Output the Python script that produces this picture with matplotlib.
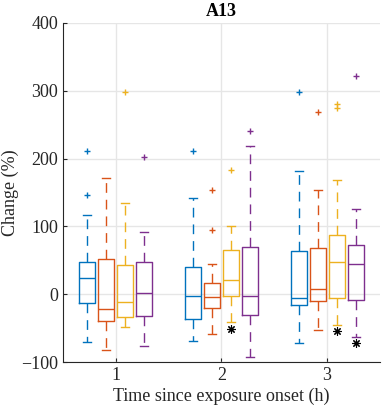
import numpy as np
import matplotlib.pyplot as plt

# === DATA ===
HOURS = [1, 2, 3]
SERIES_COLORS = ['#0072BD', '#D95319', '#EDB120', '#7E2F8E']
OFFSETS = [-0.27, -0.09, 0.09, 0.27]

# per series: values for hour 1, 2, 3
q1 = [[-13, -37, -16], [-39, -21, -10], [-33, -3, -5], [-32, -31, -8]]
med = [[24, -3, -6], [-22, -4, 8], [-11, 21, 48], [2, -3, 45]]
q3 = [[48, 40, 63], [52, 17, 68], [43, 65, 88], [48, 70, 73]]
whislo = [[-71, -69, -72], [-83, -58, -53], [-48, -41, -46], [-76, -92, -63]]
whishi = [[117, 142, 182], [171, 44, 154], [134, 101, 169], [92, 218, 126]]
fliers = [
    [[146, 211], [211], [298]],
    [[], [94, 153], [268]],
    [[298], [183], [274, 280]],
    [[202], [240], [322]],
]
# significance stars: (hour, series index, value)
star_hour = [2, 3, 3]
star_series = [2, 2, 3]
star_value = [-51, -55, -72]

YTICKS = [-100, 0, 100, 200, 300, 400]

plt.rcParams['font.family'] = ['Liberation Serif', 'DejaVu Serif']
AX_COLOR = '#262626'
FS = 13

fig = plt.figure(figsize=(3.83, 4.15), dpi=100)
ax = fig.add_axes([0.1645, 0.1277, 0.8275, 0.8169])

for s, color in enumerate(SERIES_COLORS):
    stats = []
    for h in range(len(HOURS)):
        stats.append(dict(med=med[s][h], q1=q1[s][h], q3=q3[s][h],
                          whislo=whislo[s][h], whishi=whishi[s][h],
                          fliers=fliers[s][h]))
    pos = [hr + OFFSETS[s] for hr in HOURS]
    line_kw = dict(color=color, linewidth=1.0)
    ax.bxp(stats, positions=pos, widths=0.15, capwidths=0.075,
           boxprops=line_kw, medianprops=line_kw, capprops=line_kw,
           whiskerprops=dict(color=color, linewidth=1.0, linestyle=(0, (7, 5))),
           flierprops=dict(marker='+', markeredgecolor=color, markersize=5,
                           markeredgewidth=1.0, linestyle='none'),
           manage_ticks=False)

star_x = [h + OFFSETS[s] for h, s in zip(star_hour, star_series)]
ax.plot(star_x, star_value, linestyle='none', marker=(8, 2, 0),
        markersize=6, color='black', markeredgewidth=0.8)

ax.set_xlim(0.5, 3.5)
ax.set_ylim(-100, 400)
ax.set_xticks(HOURS)
ax.set_yticks(YTICKS)
ax.grid(True, color='#e6e6e6', linewidth=1.0)
ax.set_axisbelow(True)
for side in ['top', 'right']:
    ax.spines[side].set_visible(False)
for side in ['left', 'bottom']:
    ax.spines[side].set_color(AX_COLOR)
ax.tick_params(direction='in', length=3, colors=AX_COLOR, labelsize=FS)

ax.set_title('A13', fontsize=FS, fontweight='bold', pad=5)
ax.set_ylabel('Change (%)', fontsize=FS, color=AX_COLOR, va='center')
ax.yaxis.set_label_coords(-0.165, 0.5)
ax.set_xlabel('Time since exposure onset (h)', fontsize=FS, color=AX_COLOR, labelpad=3)

fig.savefig('out.png', dpi=100)
